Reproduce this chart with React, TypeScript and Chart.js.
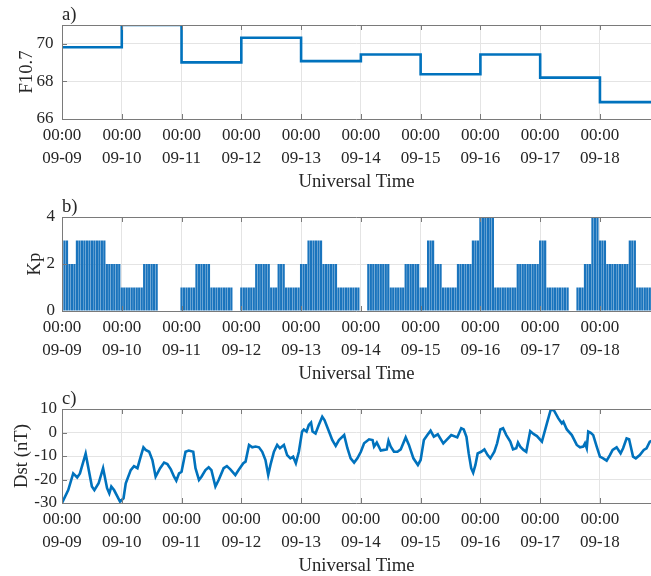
import React, { useEffect, useRef } from 'react';
import { Chart, registerables } from 'chart.js';

Chart.register(...registerables);

const FONT = "'Liberation Serif', 'Times New Roman', serif";
const TEXT = '#262626';
const BLUE = '#0072BD';
const BAR_BLUE = '#1a74bd';
const GRID = '#e4e4e4';
const AXIS = '#7a7a7a';

// x axis: hours since 09-09 00:00
const dayLabels = ['09-09', '09-10', '09-11', '09-12', '09-13', '09-14', '09-15', '09-16', '09-17', '09-18'];
const timeLabel = '00:00';
const xTitle = 'Universal Time';
const xMaxHours = 236.5;

// a) F10.7 daily values
const f107Days = [0, 1, 2, 3, 4, 5, 6, 7, 8, 9];
const f107Values = [69.82, 71.0, 69.01, 70.32, 69.08, 69.43, 68.38, 69.43, 68.2, 66.9];
const f107Ticks = [66, 68, 70];

// b) Kp, 3-hour blocks (8 per day)
const kpBlocks = [
  3, 2, 3, 3, 3, 3, 2, 2,
  1, 1, 1, 2, 2, 0, 0, 0,
  1, 1, 2, 2, 1, 1, 1, 0,
  1, 1, 2, 2, 1, 2, 1, 1,
  2, 3, 3, 2, 2, 1, 1, 1,
  0, 2, 2, 2, 1, 1, 2, 2,
  1, 3, 2, 1, 1, 2, 2, 3,
  4, 4, 1, 1, 1, 2, 2, 2,
  3, 1, 1, 1, 0, 1, 2, 4,
  3, 2, 2, 2, 3, 1, 1, 1,
];
const kpTicks = [0, 2, 4];

// c) Dst (nT)
const dstHours = [
  0, 2.5, 4.5, 6.1, 7.2, 9.5, 12, 13, 14.7, 16.5, 18.1, 19, 19.8, 20.9, 23.3,
  24.7, 25.6, 27.6, 28.9, 30.3, 31.6, 32.7, 33.6, 35, 36.3, 37.6, 39.4, 41, 42.3, 43.7, 45, 45.9, 47,
  48, 49.6, 50.9, 52.7, 53.6, 55, 56, 57.6, 58.9, 60, 61.6, 62.9, 64.9, 66.2, 67.6, 69.6, 70.9,
  72.8, 73.7, 75.1, 76.4, 77.7, 79.1, 80.4, 81.7, 82.8, 83.7, 85.1, 86.4, 87.5, 89.1, 90.4, 91.7, 92.8, 93.9, 95.1,
  96.4, 97.1, 98.2, 99.1, 100, 100.6, 101.8, 103.1, 104.5, 105.4, 107.2, 108.5, 109.9, 111.2, 113.3, 114.6, 115.9, 117.3, 118.6,
  120, 121.3, 123.3, 124.7, 125.3, 126.4, 128, 129.3, 130.4, 131.1, 132, 133.3, 134.7, 136, 138, 139.3, 141.1, 142.9,
  144, 145.3, 146.7, 148, 149.3, 150.9, 153.1, 156.3, 158.7, 160.3, 161.3, 162.4, 163.3, 164.3, 165.1, 166, 166.9,
  168.3, 169.6, 170.9, 172, 173.6, 174.7, 176, 177.1, 178.4, 180, 181.1, 182.4, 183.1, 184, 185.3, 186.4, 188, 189.3, 190.7,
  192.7, 194.7, 196.3, 197.6, 199.3, 200.7, 201.3, 202.7, 204.7, 206.7, 208, 209.3, 210, 210.7, 211.3, 212.3, 213.3, 214.7,
  216, 217.3, 218.7, 220, 221.1, 222.7, 224.3, 225.3, 226.7, 227.7, 229.3, 230.4, 232, 233.6, 234.7, 236, 237,
];
const dstValues = [
  -30, -24.5, -17.4, -19.1, -17.4, -9, -23, -24.5, -21.6, -15.2, -23.7, -25.9, -23, -24.5, -29.4,
  -28, -21.6, -16, -14.3, -15.2, -10.3, -6.3, -7.4, -8.2, -11.7, -18.8, -15.2, -12.8, -13.4, -15.7, -18.8, -20.5, -17.4,
  -16.7, -8.2, -7.7, -8.2, -15.2, -20.2, -18.8, -16, -14.8, -16, -23, -20.2, -15.2, -14.3, -15.7, -18.1, -16,
  -13.1, -12.4, -5.3, -6.3, -6, -6.3, -8.2, -11.7, -18.1, -13.8, -8.2, -5.3, -6.7, -5.3, -9.6, -11, -10.3, -13.1, -8.2,
  0.4, 1.3, 0.4, 3.2, 4.2, 0.4, -0.4, 3.2, 6.7, 5.3, 0.4, -3.2, -5.7, -3.2, -1.1, -6.7, -11, -12.8, -11,
  -8.2, -4.6, -2.9, -3.2, -6, -4.3, -7.7, -7.4, -7.2, -3.5, -6, -8.2, -8.2, -7.2, -2.1, -5.3, -11, -13.8,
  -11.7, -3.2, -1.1, 0.8, -1.8, -0.8, -4.6, -1.1, -2.1, 1.8, 1.3, -1.8, -8.9, -15.2, -17.1, -13.8, -8.9,
  -8.2, -7.2, -9.6, -11, -8.2, -4.6, 1.3, 1.8, -1.1, -3.9, -7.2, -6.7, -4.3, -6, -7.4, -8.2, 0.6, -0.6, -1.5,
  -3.9, 3.9, 9.9, 9.3, 6, 3.9, 4.6, 1.3, -1.1, -5.3, -6.3, -6, -4.6, -6.7, 0.4, -0.1, -1.1, -6,
  -10.3, -11, -12, -9.6, -7.4, -6.3, -8.9, -6.7, -2.5, -2.9, -10.3, -11, -9.6, -7.4, -6.7, -3.9, -3.5,
];
const dstTicks = [-30, -20, -10, 0, 10];

const PANEL_W = 651;
const PANEL_H = 192;
const PLOT_LEFT = 62;
const PLOT_TOP = 25;
const X_AXIS_H = 73;

const framePlugin = {
  id: 'frame',
  afterDraw(chart: any, _args: any, opts: any) {
    const { ctx, chartArea } = chart;
    const { left, right, top, bottom } = chartArea;
    ctx.save();
    ctx.strokeStyle = AXIS;
    ctx.lineWidth = 1;
    ctx.beginPath();
    ctx.moveTo(left, top + 0.5);
    ctx.lineTo(right, top + 0.5);
    ctx.moveTo(left + 0.5, top);
    ctx.lineTo(left + 0.5, bottom);
    ctx.moveTo(left, bottom + 0.5);
    ctx.lineTo(right, bottom + 0.5);
    const xs = chart.scales.x;
    xs.ticks.forEach((t: any) => {
      const px = Math.round(xs.getPixelForValue(t.value)) + 0.5;
      ctx.moveTo(px, bottom);
      ctx.lineTo(px, bottom - 5);
      ctx.moveTo(px, top);
      ctx.lineTo(px, top + 5);
    });
    const ys = chart.scales.y;
    ys.ticks.forEach((t: any) => {
      const py = Math.round(ys.getPixelForValue(t.value)) + 0.5;
      ctx.moveTo(left, py);
      ctx.lineTo(left + 5, py);
    });
    ctx.stroke();
    ctx.fillStyle = TEXT;
    ctx.font = `18.7px ${FONT}`;
    ctx.textAlign = 'left';
    ctx.textBaseline = 'alphabetic';
    ctx.fillText(opts.label, left, 19.5);
    ctx.restore();
  },
};

function xScaleOpts(): any {
  return {
    type: 'linear',
    min: 0,
    max: xMaxHours,
    offset: false,
    afterBuildTicks: (s: any) => {
      s.ticks = dayLabels.map((_, i) => ({ value: i * 24 }));
    },
    afterFit: (s: any) => {
      s.height = X_AXIS_H;
    },
    ticks: {
      autoSkip: false,
      maxRotation: 0,
      minRotation: 0,
      padding: 5.5,
      color: TEXT,
      font: { family: FONT, size: 17, lineHeight: 1.353 },
      callback: (v: any) => [timeLabel, dayLabels[Math.round(Number(v) / 24)]],
    },
    grid: { color: GRID, drawTicks: false, offset: false },
    border: { display: false },
    title: {
      display: true,
      text: xTitle,
      color: TEXT,
      font: { family: FONT, size: 18.7, lineHeight: 1 },
      padding: { top: 0, bottom: 0.7 },
    },
  };
}

function yScaleOpts(min: number, max: number, ticks: number[], title: string, titlePad: number, tickPad: number): any {
  return {
    type: 'linear',
    min,
    max,
    afterBuildTicks: (s: any) => {
      s.ticks = ticks.map((v) => ({ value: v }));
    },
    afterFit: (s: any) => {
      s.width = PLOT_LEFT;
    },
    ticks: {
      padding: tickPad,
      color: TEXT,
      font: { family: FONT, size: 17 },
    },
    grid: { color: GRID, drawTicks: false },
    border: { display: false },
    title: {
      display: true,
      text: title,
      color: TEXT,
      font: { family: FONT, size: 18.7, lineHeight: 1 },
      padding: { top: titlePad, bottom: 0 },
    },
  };
}

function baseOptions(label: string, y: any): any {
  return {
    responsive: false,
    animation: false,
    layout: { padding: { top: PLOT_TOP, left: 0, right: 0, bottom: 0 } },
    plugins: {
      legend: { display: false },
      tooltip: { enabled: false },
      frame: { label },
    },
    scales: { x: xScaleOpts(), y },
  };
}

function makeF107(canvas: HTMLCanvasElement) {
  const pts = f107Days.map((d, i) => ({ x: d * 24, y: f107Values[i] }));
  pts.push({ x: (f107Days[f107Days.length - 1] + 1) * 24, y: f107Values[f107Values.length - 1] });
  return new Chart(canvas, {
    type: 'line',
    data: {
      datasets: [
        {
          data: pts,
          stepped: 'before',
          borderColor: BLUE,
          borderWidth: 2.6,
          pointRadius: 0,
          fill: false,
        },
      ],
    },
    options: baseOptions('a)', yScaleOpts(66, 71, f107Ticks, 'F10.7', 17.6, 8.5)),
    plugins: [framePlugin],
  } as any);
}

function makeKp(canvas: HTMLCanvasElement) {
  const pts: { x: number; y: number }[] = [];
  kpBlocks.forEach((v, b) => {
    for (let k = 0; k < 3; k++) pts.push({ x: b * 3 + k, y: v });
  });
  return new Chart(canvas, {
    type: 'bar',
    data: {
      datasets: [
        {
          data: pts,
          backgroundColor: BAR_BLUE,
          borderWidth: 0,
          barPercentage: 0.9,
          categoryPercentage: 1,
        },
      ],
    },
    options: baseOptions('b)', yScaleOpts(0, 4, kpTicks, 'Kp', 25.6, 7)),
    plugins: [framePlugin],
  } as any);
}

function makeDst(canvas: HTMLCanvasElement) {
  const pts = dstHours.map((h, i) => ({ x: h, y: dstValues[i] }));
  return new Chart(canvas, {
    type: 'line',
    data: {
      datasets: [
        {
          data: pts,
          borderColor: BLUE,
          borderWidth: 2.6,
          pointRadius: 0,
          tension: 0,
          fill: false,
        },
      ],
    },
    options: baseOptions('c)', yScaleOpts(-30, 10, dstTicks, 'Dst (nT)', 13, 5)),
    plugins: [framePlugin],
  } as any);
}

function Panel({ top, make }: { top: number; make: (c: HTMLCanvasElement) => Chart }) {
  const ref = useRef<HTMLCanvasElement | null>(null);
  useEffect(() => {
    if (!ref.current) return;
    const chart = make(ref.current);
    return () => chart.destroy();
  }, [make]);
  return (
    <div style={{ position: 'absolute', left: 0, top, width: PANEL_W, height: PANEL_H }}>
      <canvas ref={ref} width={PANEL_W} height={PANEL_H} style={{ width: PANEL_W, height: PANEL_H, display: 'block' }} />
    </div>
  );
}

export default function App() {
  return (
    <div style={{ position: 'absolute', left: 0, top: 0, width: PANEL_W, height: 576, background: '#fff', overflow: 'hidden' }}>
      <Panel top={0} make={makeF107} />
      <Panel top={192} make={makeKp} />
      <Panel top={384} make={makeDst} />
    </div>
  );
}
